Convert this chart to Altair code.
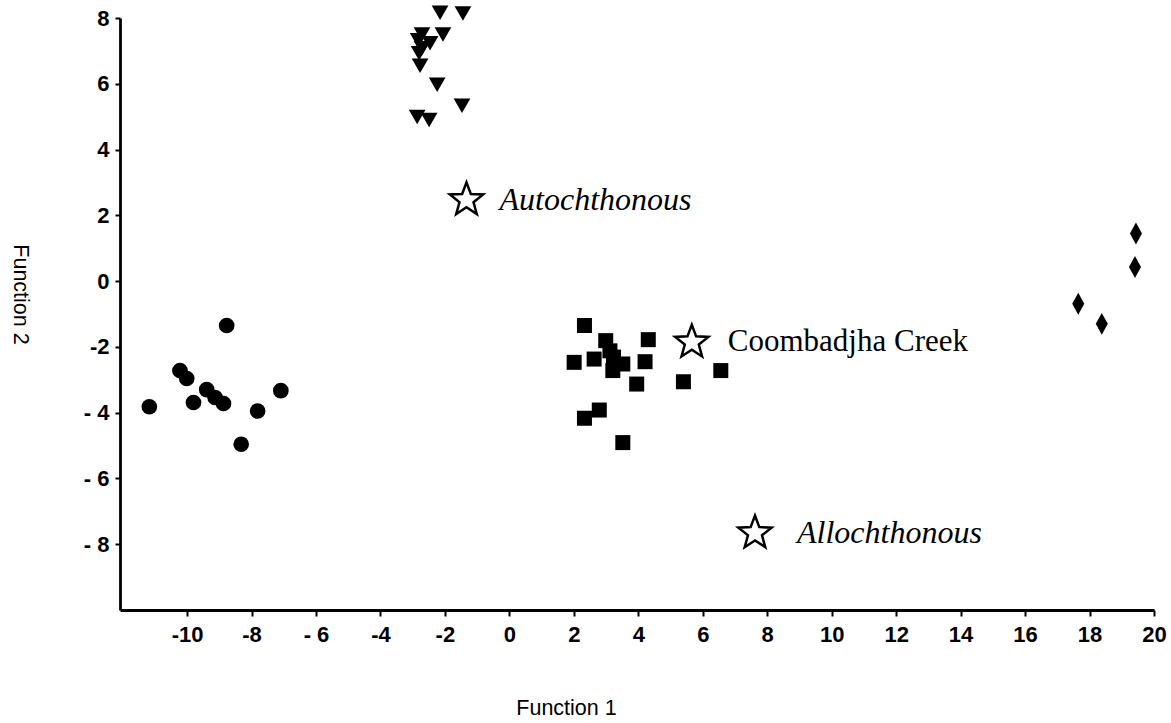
import altair as alt
import pandas as pd

# --- data ---
tri_x = [-2.15, -1.44, -2.71, -2.06, -2.83, -2.46, -2.71, -2.80, -2.77, -2.24, -1.47, -2.86, -2.49]
tri_y = [8.16, 8.14, 7.50, 7.50, 7.32, 7.23, 7.08, 6.93, 6.55, 5.97, 5.33, 4.99, 4.90]

circ_x = [-8.77, -10.22, -10.01, -11.17, -9.80, -9.39, -9.13, -8.87, -7.09, -7.81, -8.32]
circ_y = [-1.35, -2.72, -2.96, -3.82, -3.69, -3.30, -3.54, -3.72, -3.33, -3.95, -4.96]

sq_x = [2.33, 2.99, 4.31, 2.01, 2.63, 3.12, 3.23, 3.52, 3.21, 4.21, 3.95, 5.40, 6.56, 2.79, 2.33, 3.52]
sq_y = [-1.35, -1.81, -1.78, -2.47, -2.37, -2.12, -2.31, -2.52, -2.72, -2.45, -3.13, -3.06, -2.72, -3.92, -4.17, -4.91]

dia_x = [19.44, 19.41, 17.65, 18.38]
dia_y = [1.45, 0.43, -0.69, -1.30]

star_names = ["Autochthonous", "Coombadjha Creek", "Allochthonous"]
star_x = [-1.33, 5.66, 7.62]
star_y = [2.47, -1.86, -7.66]

x_ticks = [-10, -8, -6, -4, -2, 0, 2, 4, 6, 8, 10, 12, 14, 16, 18, 20]
y_ticks = [-8, -6, -4, -2, 0, 2, 4, 6, 8]

W, H = 1034, 592

STAR_PATH = ("M0,-1L0.2469,-0.3398L0.9511,-0.309L0.3995,0.1298L0.5878,0.809L0,0.42"
             "L-0.5878,0.809L-0.3995,0.1298L-0.9511,-0.309L-0.2469,-0.3398Z")
DIAMOND_PATH = "M0,-1L0.55,0L0,1L-0.55,0Z"

frames = []
for g, xv, yv in [("tri", tri_x, tri_y), ("circ", circ_x, circ_y),
                  ("sq", sq_x, sq_y), ("dia", dia_x, dia_y)]:
    frames.append(pd.DataFrame({"group": g, "x": xv, "y": yv, "name": ""}))
frames.append(pd.DataFrame({"group": "star", "x": star_x, "y": star_y, "name": star_names}))
df = pd.concat(frames, ignore_index=True)

xs = alt.Scale(domain=[-12.08, 20], nice=False, zero=False)
ys = alt.Scale(domain=[-10, 8], nice=False, zero=False)

xaxis = alt.Axis(
    orient="bottom", values=x_ticks, title="Function 1", grid=False,
    domainColor="black", domainWidth=2.8, tickColor="black", tickWidth=2, tickSize=6,
    labelFont="Liberation Sans", labelFontWeight="bold", labelFontSize=22, labelColor="black",
    labelPadding=8, labelFlush=False, labelOverlap=False,
    labelExpr="datum.value == -6 ? '- 6' : '' + datum.value",
    titleFont="Liberation Sans", titleFontWeight="normal", titleFontSize=21.5, titleColor="black",
    titleX=446, titleY=98, titleAnchor="start", titleAlign="center", titleBaseline="middle",
)
yaxis = alt.Axis(
    orient="left", values=y_ticks, title="Function 2", grid=False,
    domainColor="black", domainWidth=2.8, tickColor="black", tickWidth=2, tickSize=5,
    labelFont="Liberation Sans", labelFontWeight="bold", labelFontSize=22, labelColor="black",
    labelPadding=6, labelFlush=False, labelOverlap=False,
    labelExpr="datum.value <= -4 ? '- ' + abs(datum.value) : '' + datum.value",
    titleFont="Liberation Sans", titleFontWeight="normal", titleFontSize=21.5, titleColor="black",
    titleAngle=90, titleX=-101, titleY=276, titleAnchor="start", titleAlign="center", titleBaseline="middle",
)

base = alt.Chart(df).encode(
    x=alt.X("x:Q", scale=xs, axis=xaxis),
    y=alt.Y("y:Q", scale=ys, axis=yaxis),
)

def grp(g):
    return base.transform_filter(alt.datum.group == g)

tri = grp("tri").mark_point(shape="triangle-down", filled=True, color="black", opacity=1, size=280)
circ = grp("circ").mark_point(shape="circle", filled=True, color="black", opacity=1, size=245)
sq = grp("sq").mark_point(shape="square", filled=True, color="black", opacity=1, size=225)
dia = grp("dia").mark_point(shape=DIAMOND_PATH, filled=True, color="black", opacity=1, size=480)
stars = grp("star").mark_point(
    shape=STAR_PATH, filled=True, fill="white", stroke="black", strokeWidth=2.5, opacity=1, size=1225
)

def label(name, dx, italic, fs):
    return base.transform_filter(alt.datum.name == name).mark_text(
        align="left", baseline="middle", dx=dx, font="Liberation Serif",
        fontSize=fs, fontStyle="italic" if italic else "normal", color="black"
    ).encode(text="name:N")

chart = alt.layer(
    tri, circ, sq, dia, stars,
    label("Autochthonous", 33, True, 32),
    label("Coombadjha Creek", 36, False, 31),
    label("Allochthonous", 42, True, 32),
).properties(
    width=W, height=H,
    autosize=alt.AutoSizeParams(type="none"),
    padding={"left": 120, "top": 18, "right": 17, "bottom": 113},
    background="white",
).configure_view(stroke=None)

chart.save("out.html", embed_options={"renderer": "svg", "actions": False})
